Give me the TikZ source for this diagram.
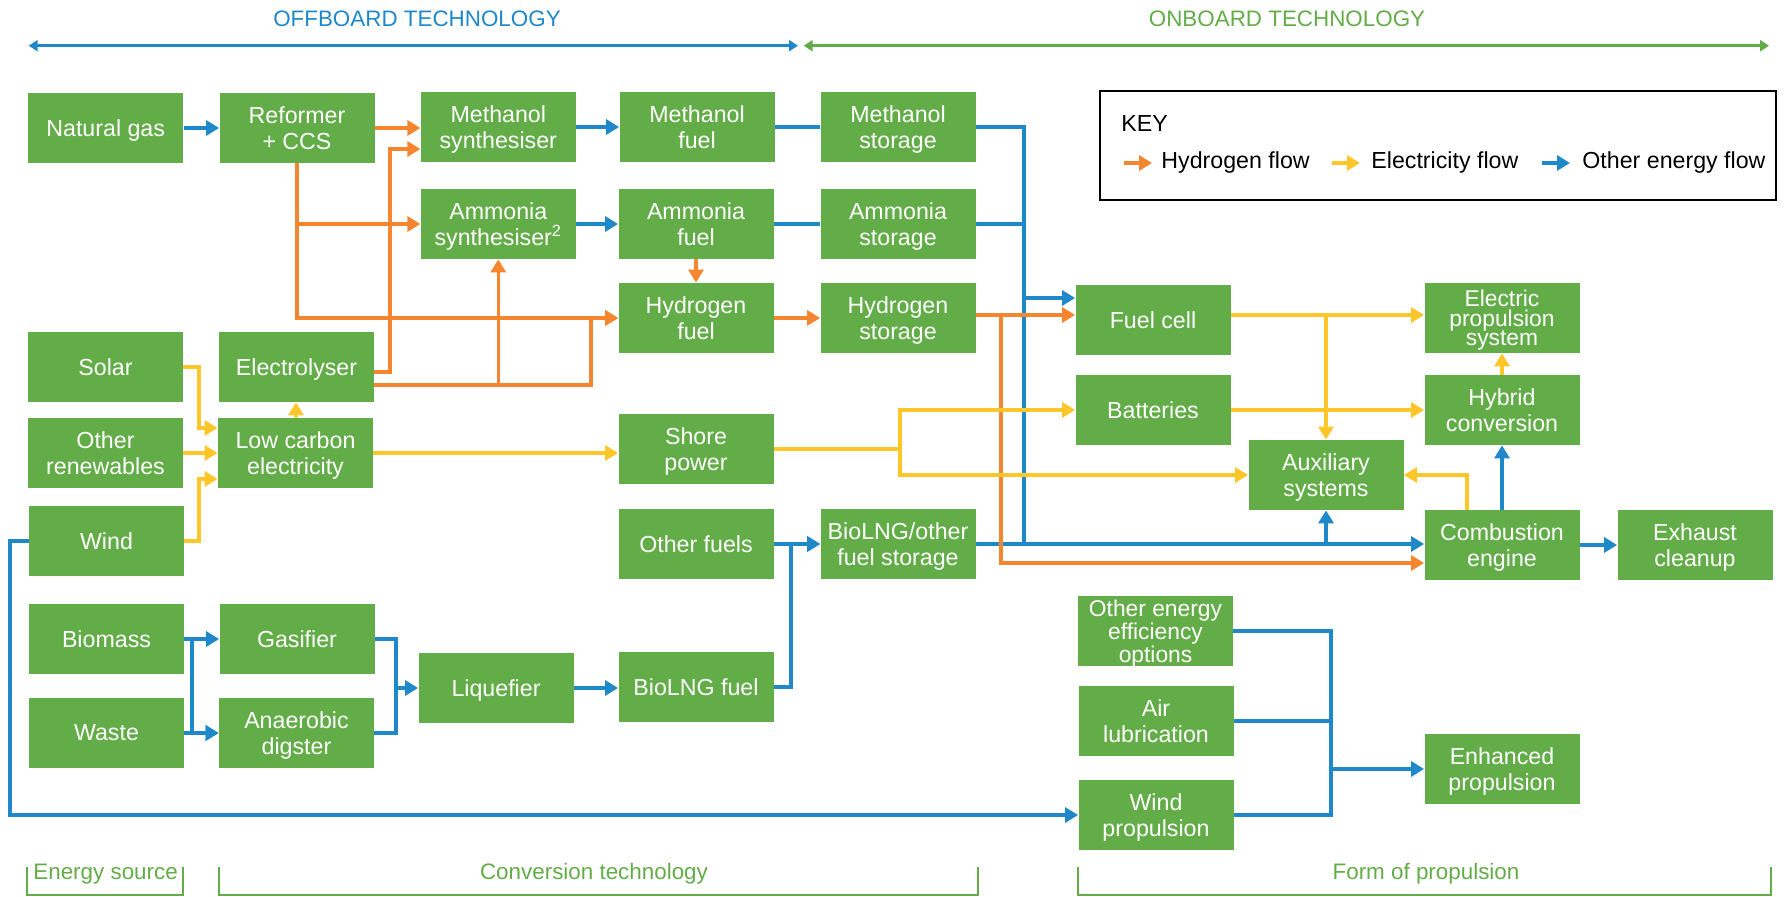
\documentclass[tikz,border=0pt]{standalone}
\usepackage{fontspec}
\setmainfont{Liberation Sans}
\usepackage{xcolor}
\usetikzlibrary{arrows.meta,calc}
\definecolor{boxgreen}{RGB}{99,173,72}
\definecolor{flowblue}{RGB}{30,136,201}
\definecolor{floworange}{RGB}{245,134,47}
\definecolor{flowyellow}{RGB}{255,198,41}

\begin{document}
\begin{tikzpicture}[
    x=0.5pt, y=-0.5pt,
    box/.style={rectangle, fill=boxgreen, text=white, inner sep=0, text depth=0pt, minimum width=77.5pt, minimum height=35pt, align=center, font=\fontsize{11.6}{12.8}\selectfont},
    tight/.style={font=\fontsize{11.4}{9.8}\selectfont},
    flowtip/.style={-{Triangle[length=6.5pt,width=7.5pt]}},
    hflow/.style={draw=floworange, line width=1.6pt},
    eflow/.style={draw=flowyellow, line width=1.6pt},
    oflow/.style={draw=flowblue, line width=1.6pt},
    heading/.style={inner sep=0, font=\fontsize{11.2}{13}\selectfont},
    keytext/.style={inner sep=0, anchor=west, font=\fontsize{11.6}{13}\selectfont},
    span/.style={line width=1.3pt, {Triangle[length=4.5pt,width=5.5pt]}-{Triangle[length=4.5pt,width=5.5pt]}},
    bracket/.style={draw=boxgreen, line width=1pt}]

\useasboundingbox (0,0) rectangle (1789,897);

\node[heading, text=flowblue] (offhead) at (417,19) {OFFBOARD TECHNOLOGY};
\node[heading, text=boxgreen] (onhead) at (1287,19) {ONBOARD TECHNOLOGY};
\coordinate (offL) at (28.7,45.7);
\coordinate (offR) at (798,45.7);
\coordinate (onL) at (803.7,45.7);
\coordinate (onR) at (1769,45.7);
\path[draw=flowblue, span] (offL) -- (offR);
\path[draw=boxgreen, span] (onL) -- (onR);

\node[box] (ngas) at (105.7,128) {Natural gas};
\node[box] (reformer) at (297,128) {Reformer\\+ CCS};
\node[box] (mesyn) at (498.3,127) {Methanol\\synthesiser};
\node[box] (mefuel) at (697,127) {Methanol\\fuel};
\node[box] (mestore) at (898,127) {Methanol\\storage};
\node[box] (amsyn) at (498.3,224) {Ammonia\\synthesiser\textsuperscript{2}};
\node[box] (amfuel) at (696,224) {Ammonia\\fuel};
\node[box] (amstore) at (898,224) {Ammonia\\storage};
\node[box] (hyfuel) at (696,318) {Hydrogen\\fuel};
\node[box] (hystore) at (898,318) {Hydrogen\\storage};
\node[box] (solar) at (105.5,367) {Solar};
\node[box] (electrolyser) at (296.5,367) {Electrolyser};
\node[box] (otherren) at (105.5,453) {Other\\renewables};
\node[box] (lowcarbon) at (295.5,453) {Low carbon\\electricity};
\node[box] (wind) at (106.5,541) {Wind};
\node[box] (shore) at (696,449) {Shore\\power};
\node[box] (otherfuels) at (696,544) {Other fuels};
\node[box] (biostore) at (898,544) {BioLNG/other\\fuel storage};
\node[box] (biomass) at (106.5,639) {Biomass};
\node[box] (gasifier) at (297,639) {Gasifier};
\node[box] (waste) at (106.5,733) {Waste};
\node[box] (anaerobic) at (296.5,733) {Anaerobic\\digster};
\node[box] (liquefier) at (496,688) {Liquefier};
\node[box] (biofuel) at (696,687) {BioLNG fuel};
\node[box] (fuelcell) at (1153,320) {Fuel cell};
\node[box, tight] (elecprop) at (1502,318) {Electric\\propulsion\\system};
\node[box] (batteries) at (1153,410) {Batteries};
\node[box] (hybrid) at (1502,410) {Hybrid\\conversion};
\node[box] (auxiliary) at (1326,475) {Auxiliary\\systems};
\node[box] (combustion) at (1502,545) {Combustion\\engine};
\node[box] (exhaust) at (1695,545) {Exhaust\\cleanup};
\node[box, tight] (effopt) at (1155.5,631) {Other energy\\efficiency\\options};
\node[box] (airlub) at (1156,721) {Air\\lubrication};
\node[box] (windprop) at (1156,815) {Wind\\propulsion};
\node[box] (enhanced) at (1502,769) {Enhanced\\propulsion};

\coordinate (obus) at (1024,0);
\coordinate (hbus) at (1001,0);
\coordinate (ybus) at (900,0);
\coordinate (ebus) at (1331,0);
\coordinate (wbus) at (10,0);
\coordinate (bbus) at (192,0);
\coordinate (lbus) at (396,0);
\coordinate (fbus) at (791,0);
\coordinate (rbus) at (390,0);
\coordinate (gbus) at (591,0);
\coordinate (sbus) at (199,0);

\path[oflow, flowtip] (ngas) -- (reformer);
\path[oflow, flowtip] (mesyn) -- (mefuel);
\path[oflow, flowtip] (amsyn) -- (amfuel);
\path[oflow] (mefuel) -- (mestore);
\path[oflow] (amfuel) -- (amstore);
\path[oflow] (mestore.east) -| (obus |- biostore.east);
\path[oflow] (amstore.east) -- (obus |- amstore.east);
\path[oflow, flowtip] ([yshift=11pt]fuelcell.west -| obus) -- ([yshift=11pt]fuelcell.west);
\path[oflow, flowtip] (biostore.east) -- (biostore.east -| combustion.west);
\path[oflow, flowtip] (auxiliary.south |- biostore.east) -- (auxiliary.south);
\path[oflow, flowtip] (combustion) -- (exhaust);
\path[oflow, flowtip] (combustion) -- (hybrid);
\path[oflow] (effopt.east) -| (ebus |- windprop.east) -- (windprop.east);
\path[oflow] (airlub.east) -- (ebus |- airlub.east);
\path[oflow, flowtip] (ebus |- enhanced.west) -- (enhanced.west);
\path[oflow, flowtip] (wind.west) -| (wbus |- windprop.west) -- (windprop.west);
\path[oflow, flowtip] (biomass) -- (gasifier);
\path[oflow, flowtip] (biomass.east) -| (bbus |- anaerobic.west) -- (anaerobic.west);
\path[oflow, flowtip] (waste) -- (anaerobic);
\path[oflow, flowtip] (gasifier.east) -| (lbus |- liquefier.west) -- (liquefier.west);
\path[oflow] (anaerobic.east) -| (lbus |- liquefier.west);
\path[oflow, flowtip] (liquefier.east) -- (liquefier.east -| biofuel.west);
\path[oflow, flowtip] (biofuel.east) -| (fbus |- biostore.west) -- (biostore.west);
\path[oflow, flowtip] (otherfuels) -- (biostore);

\path[hflow, flowtip] (reformer.east) -- (reformer.east -| mesyn.west);
\path[hflow, flowtip] ([yshift=-2.5pt]electrolyser.east) -| ([yshift=-11pt]mesyn.west -| rbus) -- ([yshift=-11pt]mesyn.west);
\path[hflow, flowtip] (reformer.south) |- (amsyn.west);
\path[hflow, flowtip] (reformer.south) |- (hyfuel.west);
\path[hflow, flowtip] ([yshift=-9pt]electrolyser.east) -| (gbus |- hyfuel.west) -- (hyfuel.west);
\path[hflow, flowtip] ([yshift=-9pt]electrolyser.east -| amsyn.south) -- (amsyn.south);
\path[hflow, flowtip] (amfuel) -- (hyfuel);
\path[hflow, flowtip] (hyfuel) -- (hystore);
\path[hflow, flowtip] ([yshift=1.5pt]hystore.east) -- ([yshift=1.5pt]hystore.east -| fuelcell.west);
\path[hflow, flowtip] ([yshift=1.5pt]hystore.east) -| ([yshift=-9pt]combustion.west -| hbus) -- ([yshift=-9pt]combustion.west);

\path[eflow, flowtip] (solar.east) -| ([yshift=12.5pt]lowcarbon.west -| sbus) -- ([yshift=12.5pt]lowcarbon.west);
\path[eflow, flowtip] (otherren) -- (lowcarbon);
\path[eflow, flowtip] (wind.east) -| ([yshift=-13pt]lowcarbon.west -| sbus) -- ([yshift=-13pt]lowcarbon.west);
\path[eflow, flowtip] (lowcarbon) -- (electrolyser);
\path[eflow, flowtip] (lowcarbon.east) -- (lowcarbon.east -| shore.west);
\path[eflow, flowtip] (shore.east) -| (ybus |- batteries.west) -- (batteries.west);
\path[eflow, flowtip] (shore.east) -| (ybus |- auxiliary.west) -- (auxiliary.west);
\path[eflow, flowtip] ([yshift=2.5pt]fuelcell.east) -- ([yshift=2.5pt]fuelcell.east -| elecprop.west);
\path[eflow, flowtip] ([yshift=2.5pt]fuelcell.east -| auxiliary.north) -- (auxiliary.north);
\path[eflow, flowtip] (batteries) -- (hybrid);
\path[eflow, flowtip] (hybrid) -- (elecprop);
\path[eflow, flowtip] ([xshift=-17.5pt]combustion.north) |- (auxiliary.east);

\node[draw, line width=1pt, minimum width=338pt, minimum height=54.5pt, inner sep=0] (key) at (1438,145.5) {};
\node[keytext] (keytitle) at (1121,124) {KEY};
\node[keytext] (khy) at (1161,163) {Hydrogen flow};
\node[keytext] (kel) at (1371,163) {Electricity flow};
\node[keytext] (kot) at (1582,163) {Other energy flow};
\path[hflow, flowtip] ([xshift=-18.7pt]khy.west) -- ([xshift=-4.5pt]khy.west);
\path[eflow, flowtip] ([xshift=-19.5pt]kel.west) -- ([xshift=-5.5pt]kel.west);
\path[oflow, flowtip] ([xshift=-20pt]kot.west) -- ([xshift=-6pt]kot.west);

\path[bracket] (27,867) |- (183,895) -- (183,867);
\path[bracket] (219,867) |- (978,895) -- (978,867);
\path[bracket] (1077.5,867) |- (1771,895) -- (1771,867);
\node[heading, text=boxgreen] (srclabel) at (105.6,874) {Energy source};
\node[heading, text=boxgreen] (convlabel) at (594,874) {Conversion technology};
\node[heading, text=boxgreen] (formlabel) at (1426,874) {Form of propulsion};

\end{tikzpicture}
\end{document}
